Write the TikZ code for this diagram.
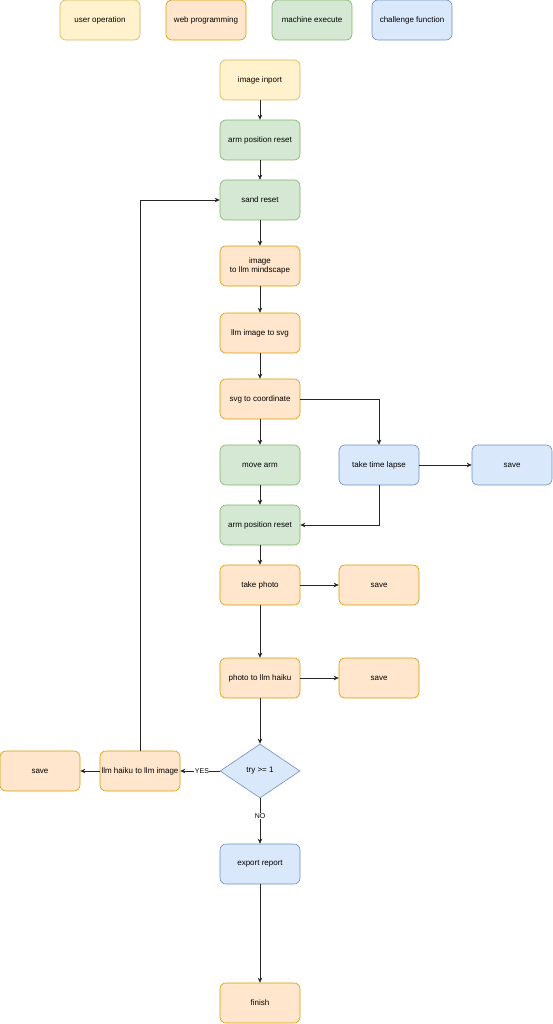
\documentclass[tikz,border=0pt]{standalone}
\usepackage{fontspec}
\setmainfont{Liberation Sans}
\usetikzlibrary{arrows.meta,shapes.geometric}
\definecolor{yfill}{HTML}{FFF2CC}\definecolor{ydraw}{HTML}{D6B656}
\definecolor{ofill}{HTML}{FFE6CC}\definecolor{odraw}{HTML}{D79B00}
\definecolor{gfill}{HTML}{D5E8D4}\definecolor{gdraw}{HTML}{82B366}
\definecolor{bfill}{HTML}{DAE8FC}\definecolor{bdraw}{HTML}{6C8EBF}
\begin{document}
\begin{tikzpicture}[x=1pt,y=-1pt,
  every node/.style={font=\fontsize{8}{9.6}\selectfont},
  box/.style={rectangle,rounded corners=6pt,minimum width=80pt,minimum height=40pt,inner sep=1pt,align=center,line width=0.6pt},
  ybox/.style={box,fill=yfill,draw=ydraw},
  obox/.style={box,fill=ofill,draw=odraw},
  gbox/.style={box,fill=gfill,draw=gdraw},
  bbox/.style={box,fill=bfill,draw=bdraw},
  arr/.style={draw=black!85,line width=0.6pt,-{Stealth[length=5pt,width=4.5pt]}},
  lbl/.style={fill=white,inner sep=0.5pt,font=\fontsize{7}{8}\selectfont}]
\useasboundingbox (0,0) rectangle (552,1024);
% legend
\node[ybox] (l1) at (100,20) {user operation};
\node[obox] (l2) at (206,20) {web programming};
\node[gbox] (l3) at (312,20) {machine execute};
\node[bbox] (l4) at (412,20) {challenge function};
% main column
\node[ybox] (n1) at (260,80) {image inport};
\node[gbox] (n2) at (260,140) {arm position reset};
\node[gbox] (n3) at (260,200) {sand reset};
\node[obox] (n4) at (260,266) {image\\to llm mindscape};
\node[obox] (n5) at (260,333) {llm image to svg};
\node[obox] (n6) at (260,399) {svg to coordinate};
\node[gbox] (n7) at (260,465) {move arm};
\node[bbox] (tl) at (379,465) {take time lapse};
\node[bbox] (s1) at (512,465) {save};
\node[gbox] (n8) at (260,525) {arm position reset};
\node[obox] (n9) at (260,585) {take photo};
\node[obox] (s2) at (379,585) {save};
\node[obox] (n10) at (260,678) {photo to llm haiku};
\node[obox] (s3) at (379,678) {save};
\node[diamond,fill=bfill,draw=bdraw,line width=0.6pt,minimum width=80pt,minimum height=54pt,inner sep=0pt,aspect=1.48] (d) at (260,771) {try >= 1};
\node[obox] (hi) at (140,771) {llm haiku to llm image};
\node[obox] (s4) at (40,771) {save};
\node[bbox] (er) at (260,864) {export report};
\node[obox] (fin) at (260,1003) {finish};
% edges
\draw[arr] (n1) -- (n2);
\draw[arr] (n2) -- (n3);
\draw[arr] (n3) -- (n4);
\draw[arr] (n4) -- (n5);
\draw[arr] (n5) -- (n6);
\draw[arr] (n6) -- (n7);
\draw[arr] (n6.east) -| (tl.north);
\draw[arr] (tl) -- (s1);
\draw[arr] (n7) -- (n8);
\draw[arr] (tl.south) |- (n8.east);
\draw[arr] (n8) -- (n9);
\draw[arr] (n9) -- (s2);
\draw[arr] (n9) -- (n10);
\draw[arr] (n10) -- (s3);
\draw[arr] (n10) -- (d);
\draw[arr] (d.west) -- node[lbl,pos=0.45] {YES} (hi.east);
\draw[arr] (hi) -- (s4);
\draw[arr] (hi.north) |- (n3.west);
\draw[arr] (d.south) -- node[lbl,pos=0.4] {NO} (er.north);
\draw[arr] (er) -- (fin);
\end{tikzpicture}
\end{document}
